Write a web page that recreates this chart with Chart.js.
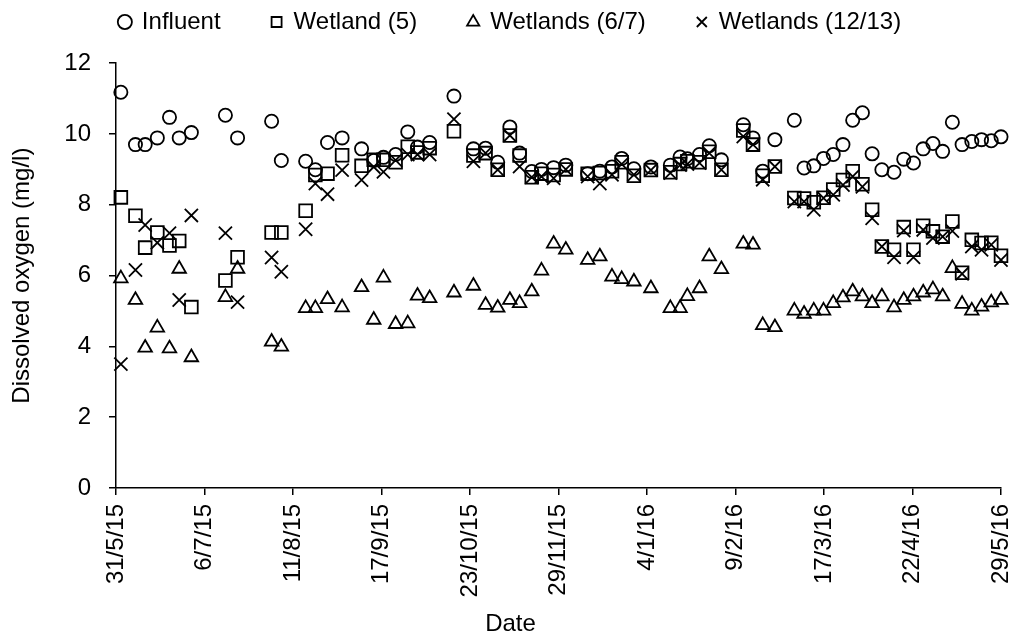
<!DOCTYPE html>
<html>
<head>
<meta charset="utf-8">
<script src="https://cdn.jsdelivr.net/npm/chart.js@4.4.0/dist/chart.umd.min.js"></script>
<style>
  html, body { margin: 0; padding: 0; background: #fff; }
  #wrap { width: 1025px; height: 639px; }
</style>
</head>
<body>
<div id="wrap"><canvas id="doChart"></canvas></div>
<script>
// days counted from 31/5/15
const sampleDays = [2, 8, 12, 17, 22, 26, 31, 45, 50, 64,
    68, 78, 82, 87, 93, 101, 106, 110, 115, 120,
    124, 129, 139, 147, 152, 157, 162, 166, 171, 175,
    180, 185, 194, 199, 204, 208, 213, 220, 228, 232,
    235, 240, 244, 249, 258, 262, 266, 271, 279, 283,
    287, 291, 295, 299, 303, 307, 311, 315, 320, 324,
    328, 332, 336, 340, 344, 348, 352, 356, 360, 364];

const influent = [11.18, 9.70, 9.70, 9.89, 10.47, 9.89, 10.04, 10.53, 9.89, 10.36,
    9.25, 9.23, 8.99, 9.76, 9.89, 9.58, 9.25, 9.34, 9.42, 10.06,
    9.63, 9.76, 11.07, 9.58, 9.60, 9.20, 10.20, 9.46, 8.94, 9.00,
    9.05, 9.12, 8.88, 8.95, 9.07, 9.31, 9.02, 9.07, 9.12, 9.35,
    9.30, 9.42, 9.67, 9.27, 10.26, 9.89, 8.95, 9.84, 10.39, 9.04,
    9.10, 9.31, 9.42, 9.70, 10.39, 10.60, 9.44, 8.99, 8.92, 9.29,
    9.18, 9.58, 9.73, 9.51, 10.33, 9.70, 9.79, 9.84, 9.81, 9.92];

const wetland5 = [8.21, 7.69, 6.79, 7.22, 6.85, 6.98, 5.11, 5.86, 6.52, 7.22,
    7.22, 7.83, 8.84, 8.88, 9.40, 9.10, 9.27, 9.27, 9.20, 9.64,
    9.48, 9.60, 10.08, 9.39, 9.46, 8.99, 9.96, 9.39, 8.78, 8.88,
    8.84, 9.00, 8.88, 8.90, 8.95, 9.20, 8.82, 8.98, 8.92, 9.15,
    9.23, 9.20, 9.50, 8.99, 10.10, 9.70, 8.82, 9.08, 8.19, 8.18,
    8.07, 8.20, 8.43, 8.70, 8.95, 8.58, 7.86, 6.82, 6.73, 7.37,
    6.73, 7.41, 7.25, 7.10, 7.53, 6.08, 7.01, 6.92, 6.93, 6.56];

const wetland67 = [5.92, 5.31, 3.96, 4.53, 3.94, 6.19, 3.69, 5.39, 6.19, 4.13,
    3.99, 5.08, 5.08, 5.33, 5.10, 5.67, 4.75, 5.94, 4.63, 4.65,
    5.43, 5.36, 5.52, 5.71, 5.17, 5.09, 5.31, 5.22, 5.55, 6.14,
    6.90, 6.73, 6.44, 6.54, 5.97, 5.90, 5.83, 5.64, 5.08, 5.08,
    5.42, 5.64, 6.54, 6.18, 6.90, 6.87, 4.60, 4.54, 5.01, 4.92,
    5.01, 5.01, 5.22, 5.38, 5.55, 5.41, 5.22, 5.41, 5.10, 5.31,
    5.41, 5.52, 5.61, 5.41, 6.21, 5.20, 5.01, 5.12, 5.24, 5.31];

const wetland1213 = [3.50, 6.16, 7.43, 6.93, 7.20, 5.31, 7.70, 7.20, 5.25, 6.51,
    6.11, 7.31, 8.60, 8.30, 8.98, 8.70, 9.07, 8.93, 9.26, 9.42,
    9.42, 9.42, 10.42, 9.23, 9.46, 8.99, 9.96, 9.08, 8.78, 8.80,
    8.75, 9.00, 8.80, 8.60, 8.85, 9.15, 8.85, 8.98, 8.90, 9.12,
    9.15, 9.18, 9.46, 8.99, 9.93, 9.70, 8.71, 9.08, 8.09, 8.09,
    7.86, 8.19, 8.28, 8.56, 8.80, 8.51, 7.62, 6.82, 6.52, 7.27,
    6.52, 7.29, 7.06, 7.10, 7.26, 6.05, 6.82, 6.73, 6.87, 6.44];

const dateTicks = ['31/5/15', '6/7/15', '11/8/15', '17/9/15', '23/10/15', '29/11/15',
    '4/1/16', '9/2/16', '17/3/16', '22/4/16', '29/5/16'];
const lastDay = 364;

function toPoints(values) {
    return sampleDays.map((d, i) => ({ x: d, y: values[i] }));
}

const font = { family: "'Liberation Sans', Arial, sans-serif", size: 24 };

function makeSet(label, values, style, radius) {
    return {
        label: label,
        data: toPoints(values),
        pointStyle: style,
        pointRadius: radius,
        pointHoverRadius: radius,
        borderColor: '#000',
        backgroundColor: 'rgba(0,0,0,0)',
        borderWidth: 1.8,
        clip: false
    };
}

let ctx = document.getElementById('doChart').getContext('2d');
let doChart = new Chart(ctx, {
    type: 'scatter',
    data: {
        datasets: [
            makeSet('Influent', influent, 'circle', 6.6),
            makeSet('Wetland (5)', wetland5, 'rect', 9),
            makeSet('Wetlands (6/7)', wetland67, 'triangle', 7.8),
            makeSet('Wetlands (12/13)', wetland1213, 'crossRot', 9.3)
        ]
    },
    options: {
        responsive: true,
        maintainAspectRatio: false,
        animation: false,
        layout: { padding: { left: 20, right: 24, top: -41, bottom: 0 } },
        plugins: {
            tooltip: { enabled: false },
            legend: {
                position: 'top',
                weight: 3000,
                labels: {
                    usePointStyle: true,
                    boxWidth: 10,
                    boxHeight: 10,
                    padding: 51,
                    color: '#000',
                    font: font
                }
            },
            // empty spacer between legend and plot
            subtitle: {
                display: true,
                text: '',
                font: { size: 1 },
                padding: { top: 0, bottom: 18 }
            },
            title: {
                display: true,
                text: 'Date',
                position: 'bottom',
                color: '#000',
                font: { family: font.family, size: 24, weight: 'normal' },
                padding: { top: 0, bottom: 0 }
            }
        },
        scales: {
            x: {
                type: 'linear',
                min: 0,
                max: lastDay,
                afterBuildTicks: (scale) => {
                    const step = lastDay / (dateTicks.length - 1);
                    scale.ticks = dateTicks.map((t, i) => ({ value: i * step }));
                },
                afterFit: (scale) => {
                    scale.height = 122.2;
                    scale.paddingLeft = 0;
                    scale.paddingRight = 0;
                },
                ticks: {
                    autoSkip: false,
                    minRotation: 90,
                    maxRotation: 90,
                    padding: 9,
                    color: '#000',
                    font: font,
                    callback: (value, index) => dateTicks[index]
                },
                grid: { drawOnChartArea: false, tickLength: 7, color: '#000', lineWidth: 1.5 },
                border: { color: '#000', width: 1.5 }
            },
            y: {
                min: 0,
                max: 12,
                afterFit: (scale) => {
                    scale.width = 96;
                    scale.paddingTop = 0;
                    scale.paddingBottom = 0;
                },
                ticks: { stepSize: 2, padding: 18, color: '#000', font: font },
                grid: { drawOnChartArea: false, tickLength: 7, color: '#000', lineWidth: 1.5 },
                border: { color: '#000', width: 1.5 },
                title: {
                    display: true,
                    text: 'Dissolved oxygen (mg/l)',
                    color: '#000',
                    font: font,
                    padding: { top: -12.4, bottom: 0 }
                }
            }
        }
    }
});
</script>
</body>
</html>
